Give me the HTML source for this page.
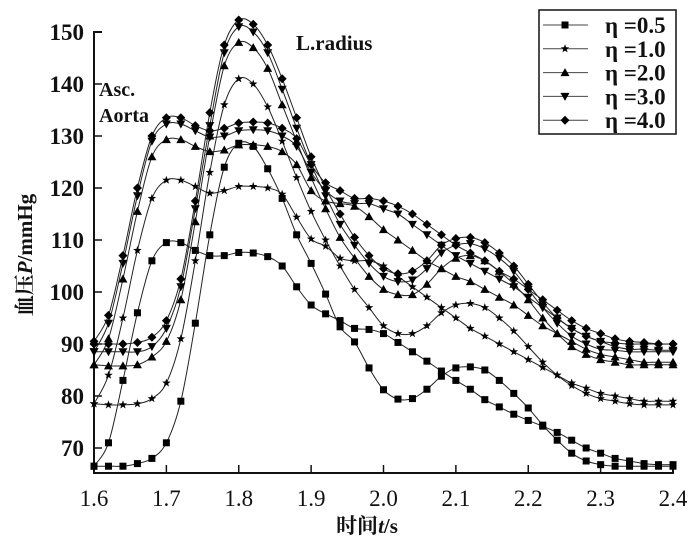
<!DOCTYPE html>
<html><head><meta charset="utf-8">
<style>
html,body{margin:0;padding:0;background:#fff;}
svg{display:block;}
text{font-family:"Liberation Serif","Noto Serif CJK SC",serif;fill:#111;}
</style></head>
<body>
<svg id="chart" width="700" height="546" viewBox="0 0 700 546" xmlns="http://www.w3.org/2000/svg">
<g id="axes"></g>
<g id="series"></g>
<text x="99" y="96" font-size="20" font-weight="bold">Asc.</text>
<text x="99" y="122" font-size="20" font-weight="bold">Aorta</text>
<text x="296" y="50" font-size="21" font-weight="bold">L.radius</text>
<text transform="translate(32,255) rotate(-90)" text-anchor="middle" font-size="21" font-weight="bold">血压<tspan font-style="italic">P</tspan>/mmHg</text>
<text x="367" y="533" text-anchor="middle" font-size="21" font-weight="bold">时间<tspan font-style="italic">t</tspan>/s</text>
<g id="legend"></g>
</svg>
<script>
const xTicks = [1.6,1.7,1.8,1.9,2.0,2.1,2.2,2.3,2.4];
const yTicks = [70,80,90,100,110,120,130,140,150];
const etaLabels = ["η =0.5","η =1.0","η =2.0","η =3.0","η =4.0"];
const markers = ["square","star","triangle","down","diamond"];
const tStart = 1.6, tStep = 0.02;
const rad05 = [66.5,66.5,66.5,67,68,71,79,94,111,124,128.6,128,123.7,118,111,105.5,99.6,93.3,90.4,85.4,81.2,79.4,79.5,81.3,83.8,85.4,85.6,85,83,80.5,77.7,74.4,71.5,69,67.5,66.8,66.5,66.5,66.5,66.5,66.5];
const aor05 = [66.5,71,83,96,106,109.5,109.5,108,107,107,107.6,107.5,106.8,105,101,97.5,95.8,94.5,93,92.8,92,90.3,88.5,86.7,84.8,83,81.3,79.3,77.9,76.5,75.3,74.2,73,71.5,70,69,68,67.5,67,66.8,66.8];
const rad10 = [78.5,78.3,78.3,78.5,79.5,82.5,91,106,123,136,141,140,135.6,129,122,115.5,110,105,100.5,97,93.5,92,92,93.5,96,97.5,97.8,97,95,92.5,89.5,86.5,84,82,80.5,79.5,79,78.5,78.3,78.3,78.3];
const aor10 = [78.5,84,95,108,118,121.5,121.5,120.3,119,119.5,120.3,120.3,120,118.8,114.4,110.2,108.8,106.5,106,106,105,103,101,99,97,95,93,91.5,90,88.5,87,85.5,84,82.5,81.5,80.5,80,79.5,79,79,79];
const rad20 = [86,85.8,85.8,86,87.5,90.5,98.5,113.5,130,143.5,148,147,143,136,129,122,116,110.5,106.5,103,100.5,99.5,99.5,101.5,104.5,106.5,107,106,104,101.5,98.5,95,92,89.5,88,87,86.5,86,86,86,86];
const aor20 = [86,91,102.5,115.5,126,129.3,129.3,128,127,127.3,128.3,128.3,128,127,124.5,119.5,117.5,117,116.5,114.5,112,110,108,106,104.5,103,102,100.5,99,97.5,95.5,93.5,92,90.5,89,88,87.5,87,86.5,86.5,86.5];
const rad30 = [88.5,88.5,88.5,88.5,89.5,93,101,116,132,146,151,150,146,139,131.5,124.5,118.5,113,109,105.5,103,102,102.3,104.5,107.5,109,109.3,108.3,106.5,104,100.5,97,94,91.5,90,89,88.8,88.5,88.5,88.5,88.5];
const aor30 = [88.5,94,105.5,118.5,129,132.3,132.3,131,129.8,130,131,131.2,131,130,128,123,119.5,117.5,117,117,116,115,113,111,109,107,105.5,104,102.5,101,99,97,95,93,91.5,90.5,89.5,89,89,88.8,88.8];
const rad40 = [90,90,90,90.3,91.3,94.5,102.5,117.5,134.5,147.5,152.3,151.5,147.5,141,133.5,126,120,115,110.5,107,104.5,103.5,104,106,109,110.3,110.5,109.5,107.5,105,101.5,98,95,93,91.5,90.5,90.2,90,90,90,90];
const aor40 = [90.5,95.5,107,120,130,133.5,133.5,132,131,131.5,132.5,132.7,132.5,131.5,129.5,124.5,121,119.5,118,118,117.5,116.5,115,113,111,109,107.5,106,104,102.5,100.5,98.5,96.5,94.5,93,92,91,90.5,90.3,90,90];

const NS="http://www.w3.org/2000/svg";
const X0=94,X1=673,Y150=32,PX10=52;
function xs(t){return X0+(t-1.6)/0.8*(X1-X0);}
function ys(v){return Y150+(150-v)/10*PX10;}
function mk(tag,attrs,parent){const e=document.createElementNS(NS,tag);for(const k in attrs)e.setAttribute(k,attrs[k]);parent.appendChild(e);return e;}
const axes=document.getElementById('axes');
const bottom=473;
let l=mk('path',{d:`M${X0+8} ${Y150} H${X0} V${bottom} H${X1} V${bottom-8}`,fill:'none',stroke:'#111','stroke-width':2},axes);


xTicks.forEach((t,i)=>{
  if(i>0&&i<xTicks.length-1){const tk=mk('line',{x1:xs(t),x2:xs(t),y1:bottom,y2:bottom-8,stroke:'#111','stroke-width':1.5},axes);
  
  }
  const tx=mk('text',{x:xs(t),y:506,'text-anchor':'middle','font-size':23},axes);tx.textContent=t.toFixed(1);
  
  
});
yTicks.forEach(v=>{
  const tk=mk('line',{x1:X0,x2:X0+8,y1:ys(v),y2:ys(v),stroke:'#111','stroke-width':1.5},axes);
  
  
  const tx=mk('text',{x:84,y:ys(v)+8,'text-anchor':'end','font-size':23,'font-weight':'bold'},axes);tx.textContent=v;
  
  
});
function marker(type,x,y,parent){
  let e;
  if(type==='square')e=mk('rect',{x:x-3.5,y:y-3.5,width:7,height:7,fill:'#000'},parent);
  else if(type==='triangle')e=mk('polygon',{points:`${x},${y-4.5} ${x+4.5},${y+3.5} ${x-4.5},${y+3.5}`,fill:'#000'},parent);
  else if(type==='down')e=mk('polygon',{points:`${x},${y+4.5} ${x+4.5},${y-3.5} ${x-4.5},${y-3.5}`,fill:'#000'},parent);
  else if(type==='diamond')e=mk('polygon',{points:`${x},${y-4.5} ${x+4.5},${y} ${x},${y+4.5} ${x-4.5},${y}`,fill:'#000'},parent);
  else{let p=[];for(let i=0;i<10;i++){const r=i%2?1.8:4.5,a=-Math.PI/2+i*Math.PI/5;p.push((x+r*Math.cos(a)).toFixed(1)+','+(y+r*Math.sin(a)).toFixed(1));}
    e=mk('polygon',{points:p.join(' '),fill:'#000'},parent);}
  return e;
}
function smooth(pts){let d=`M${pts[0][0]} ${pts[0][1]}`;for(let i=0;i<pts.length-1;i++){const p0=pts[Math.max(0,i-1)],p1=pts[i],p2=pts[i+1],p3=pts[Math.min(pts.length-1,i+2)];
  d+=` C${p1[0]+(p2[0]-p0[0])/6} ${p1[1]+(p2[1]-p0[1])/6} ${p2[0]-(p3[0]-p1[0])/6} ${p2[1]-(p3[1]-p1[1])/6} ${p2[0]} ${p2[1]}`;}return d;}
const seriesG=document.getElementById('series');
const allSeries=[[rad05,aor05],[rad10,aor10],[rad20,aor20],[rad30,aor30],[rad40,aor40]];
allSeries.forEach((pair,si)=>{
  pair.forEach((vals,k)=>{
    const g=mk('g',{},seriesG);
    
    
    const pts=vals.map((v,i)=>[xs(tStart+i*tStep),ys(v)]);
    const p=mk('path',{d:smooth(pts),fill:'none',stroke:'#222','stroke-width':1},g);
    
    
    pts.forEach(pt=>{const m=marker(markers[si],pt[0],pt[1],g);
      
      });
  });
});
const lg=document.getElementById('legend');
const box=mk('rect',{x:539,y:10,width:137,height:124,fill:'#fff',stroke:'#111','stroke-width':1.5},lg);


etaLabels.forEach((lab,i)=>{
  const y=25+i*23.8;
  const g=mk('g',{},lg);
  
  
  mk('line',{x1:543,x2:588,y1:y,y2:y,stroke:'#444','stroke-width':1},g);
  marker(markers[i],565,y,g);
  const t=mk('text',{x:605,y:y+8,'font-size':23,'font-weight':'bold'},g);t.textContent=lab;
});
</script>
</body></html>
